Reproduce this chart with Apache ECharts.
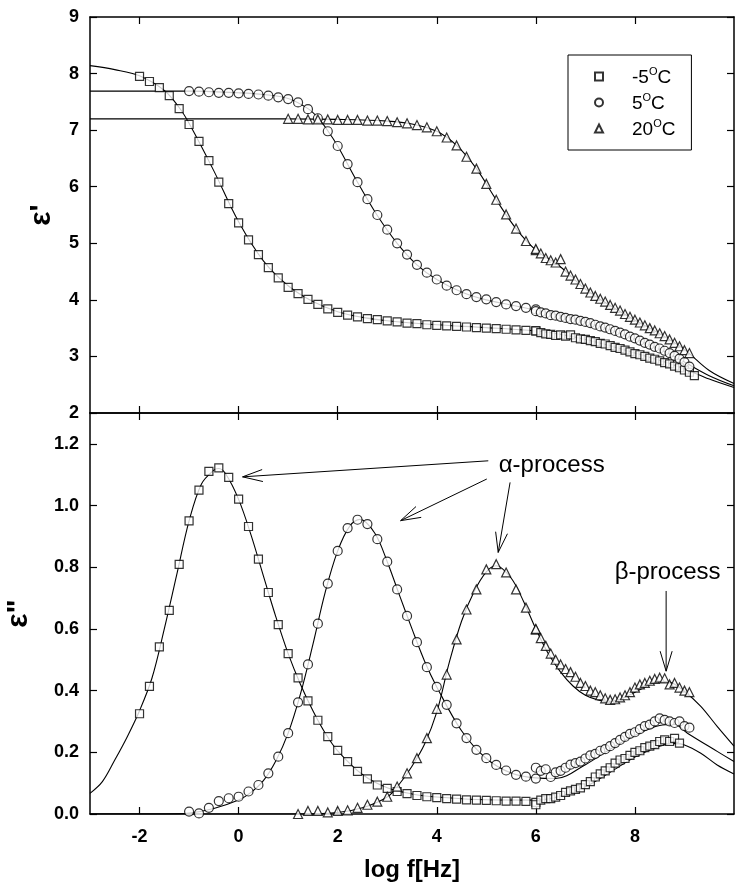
<!DOCTYPE html>
<html>
<head>
<meta charset="utf-8">
<script src="https://cdn.jsdelivr.net/npm/echarts@6/dist/echarts.min.js"></script>
<style>
  html, body { margin: 0; padding: 0; background: #fff; }
  #chart { width: 735px; height: 890px; }
</style>
</head>
<body>
<div id="chart"></div>
<script>
// x = log f[Hz]，低频测量点 (步长 0.2)
const xSqLF = [-2.0,-1.8,-1.6,-1.4,-1.2,-1.0,-0.8,-0.6,-0.4,-0.2,0.0,0.2,0.4,0.6,0.8,1.0,1.2,1.4,1.6,1.8,2.0,2.2,2.4,2.6,2.8,3.0,3.2,3.4,3.6,3.8,4.0,4.2,4.4,4.6,4.8,5.0,5.2,5.4,5.6,5.8,6.0]
const xCiLF = [-1.0,-0.8,-0.6,-0.4,-0.2,0.0,0.2,0.4,0.6,0.8,1.0,1.2,1.4,1.6,1.8,2.0,2.2,2.4,2.6,2.8,3.0,3.2,3.4,3.6,3.8,4.0,4.2,4.4,4.6,4.8,5.0,5.2,5.4,5.6,5.8,6.0]
const xTrTopLF = [1.0,1.2,1.4,1.6,1.8,2.0,2.2,2.4,2.6,2.8,3.0,3.2,3.4,3.6,3.8,4.0,4.2,4.4,4.6,4.8,5.0,5.2,5.4,5.6,5.8,6.0]
const xTrBotLF = [1.2,1.4,1.6,1.8,2.0,2.2,2.4,2.6,2.8,3.0,3.2,3.4,3.6,3.8,4.0,4.2,4.4,4.6,4.8,5.0,5.2,5.4,5.6,5.8,6.0]
// 高频测量点 (步长 0.1)
const xHF = [6.0,6.1,6.2,6.3,6.4,6.5,6.6,6.7,6.8,6.9,7.0,7.1,7.2,7.3,7.4,7.5,7.6,7.7,7.8,7.9,8.0,8.1,8.2,8.3,8.4,8.5,8.6,8.7,8.8,8.9,9.0,9.1,9.2]

// ε' (上图)
const epsSqLF = [7.95,7.86,7.75,7.61,7.38,7.10,6.80,6.46,6.08,5.70,5.36,5.06,4.80,4.57,4.39,4.22,4.11,4.01,3.92,3.84,3.78,3.73,3.70,3.67,3.65,3.63,3.61,3.59,3.58,3.56,3.55,3.54,3.53,3.52,3.51,3.50,3.49,3.48,3.47,3.46,3.45]
const epsSqHF = [3.45,3.42,3.40,3.39,3.37,3.38,3.36,3.38,3.33,3.31,3.30,3.28,3.26,3.23,3.22,3.19,3.16,3.14,3.11,3.08,3.05,3.03,3.00,2.97,2.95,2.92,2.89,2.87,2.83,2.80,2.76,2.72,2.66]
const epsCiLF = [7.69,7.68,7.67,7.66,7.66,7.65,7.64,7.63,7.61,7.58,7.55,7.49,7.37,7.21,6.98,6.72,6.40,6.08,5.78,5.50,5.24,5.00,4.80,4.62,4.48,4.36,4.25,4.17,4.10,4.05,4.01,3.96,3.92,3.89,3.86,3.83]
const epsCiHF = [3.80,3.78,3.76,3.73,3.72,3.70,3.68,3.66,3.65,3.63,3.61,3.59,3.56,3.53,3.51,3.48,3.45,3.42,3.39,3.35,3.32,3.28,3.24,3.21,3.17,3.14,3.10,3.06,3.01,2.96,2.90,2.82]
const epsTrLF = [7.20,7.20,7.19,7.19,7.19,7.18,7.18,7.18,7.17,7.17,7.16,7.14,7.12,7.09,7.05,6.98,6.87,6.73,6.53,6.32,6.05,5.77,5.51,5.26,5.04,4.88]
const epsTrHF = [4.90,4.82,4.74,4.70,4.66,4.72,4.50,4.43,4.36,4.28,4.20,4.13,4.07,4.02,3.97,3.91,3.86,3.81,3.75,3.70,3.65,3.60,3.55,3.50,3.46,3.41,3.36,3.30,3.24,3.18,3.11,3.06]

// ε'' (下图)
const lossSqLF = [0.325,0.414,0.542,0.660,0.809,0.950,1.050,1.111,1.122,1.091,1.021,0.932,0.826,0.718,0.614,0.520,0.441,0.367,0.304,0.251,0.206,0.170,0.138,0.114,0.094,0.083,0.073,0.066,0.060,0.056,0.053,0.050,0.048,0.046,0.045,0.044,0.043,0.042,0.042,0.041,0.038]
const lossSqHF = [0.030,0.045,0.050,0.050,0.055,0.060,0.070,0.075,0.080,0.085,0.095,0.105,0.120,0.130,0.140,0.150,0.165,0.175,0.180,0.190,0.200,0.205,0.215,0.220,0.225,0.235,0.240,0.235,0.245,0.230]
const lossCiLF = [0.008,0.002,0.020,0.042,0.051,0.056,0.073,0.094,0.132,0.186,0.262,0.362,0.485,0.617,0.747,0.853,0.927,0.954,0.940,0.891,0.818,0.728,0.642,0.557,0.476,0.412,0.354,0.294,0.246,0.208,0.181,0.159,0.141,0.127,0.121,0.115]
const lossCiHF = [0.150,0.140,0.145,0.120,0.135,0.140,0.150,0.160,0.165,0.170,0.180,0.190,0.195,0.205,0.210,0.220,0.230,0.240,0.250,0.260,0.265,0.275,0.285,0.290,0.300,0.310,0.305,0.300,0.295,0.300,0.285,0.280]
const lossTrLF = [0.000,0.010,0.010,0.005,0.010,0.012,0.020,0.030,0.040,0.056,0.089,0.132,0.181,0.246,0.341,0.452,0.566,0.663,0.728,0.793,0.810,0.783,0.728,0.669,0.598]
const lossTrHF = [0.600,0.570,0.545,0.520,0.500,0.485,0.470,0.460,0.445,0.425,0.415,0.400,0.395,0.385,0.375,0.370,0.372,0.378,0.385,0.395,0.410,0.420,0.425,0.432,0.438,0.442,0.440,0.420,0.425,0.410,0.400,0.395]

// 拟合曲线 [log f, 值]
const fitSqTop = [[-3,8.14],[-2.5,8.07],[-2,7.96],[-1.5,7.70],[-1.2,7.40],[-1,7.12],[-0.5,6.28],[0,5.38],[0.5,4.69],[1,4.25],[1.5,3.97],[2,3.79],[2.5,3.69],[3,3.63],[4,3.56],[5,3.51],[6,3.45],[6.5,3.39],[7,3.30],[7.5,3.19],[8,3.06],[8.5,2.93],[9,2.78],[9.5,2.60],[10,2.45]]
const fitCiTop = [[-3,7.69],[-1,7.69],[0,7.66],[0.5,7.63],[1,7.56],[1.4,7.38],[1.6,7.22],[1.8,6.99],[2,6.72],[2.4,6.08],[2.8,5.49],[3.2,5.00],[3.6,4.62],[4,4.36],[4.5,4.14],[5,4.00],[5.5,3.91],[6,3.82],[6.5,3.72],[7,3.61],[7.5,3.47],[8,3.31],[8.5,3.13],[9,2.90],[9.5,2.66],[10,2.48]]
const fitTrTop = [[-3,7.20],[1,7.20],[2,7.19],[3,7.16],[3.5,7.11],[4,6.98],[4.4,6.73],[4.8,6.32],[5.2,5.77],[5.6,5.26],[6,4.88],[6.5,4.58],[7,4.19],[7.5,3.90],[8,3.64],[8.5,3.40],[9,3.12],[9.5,2.75],[10,2.52]]
const fitSqBot = [[-3,0.067],[-2.75,0.105],[-2.5,0.175],[-2.25,0.25],[-2,0.335],[-1.75,0.44],[-1.5,0.60],[-1.25,0.775],[-1,0.95],[-0.75,1.07],[-0.5,1.115],[-0.4,1.12],[-0.25,1.10],[0,1.02],[0.25,0.905],[0.5,0.772],[0.75,0.640],[1,0.520],[1.25,0.42],[1.5,0.335],[1.75,0.262],[2,0.205],[2.5,0.128],[3,0.085],[3.5,0.065],[4,0.055],[5,0.046],[6,0.045],[6.5,0.058],[7,0.088],[7.5,0.135],[8,0.185],[8.5,0.22],[8.8,0.228],[9,0.224],[9.33,0.197],[9.66,0.159],[10,0.13]]
const fitCiBot = [[-3,0],[-1.5,0],[-1,0.003],[-0.5,0.018],[0,0.045],[0.25,0.07],[0.5,0.108],[0.75,0.172],[1,0.262],[1.25,0.39],[1.5,0.55],[1.75,0.72],[2,0.853],[2.25,0.935],[2.45,0.955],[2.75,0.91],[3,0.818],[3.25,0.708],[3.5,0.60],[3.75,0.497],[4,0.412],[4.5,0.27],[5,0.18],[5.5,0.133],[6,0.117],[6.4,0.115],[7,0.16],[7.5,0.21],[8,0.255],[8.5,0.287],[8.8,0.29],[9.06,0.262],[9.66,0.203],[10,0.17]]
const fitTrBot = [[-3,0],[1,0],[2,0.005],[2.5,0.02],[3,0.055],[3.25,0.098],[3.5,0.155],[3.75,0.225],[4,0.33],[4.25,0.49],[4.5,0.625],[4.75,0.72],[5,0.785],[5.2,0.805],[5.5,0.765],[5.75,0.69],[6,0.60],[6.25,0.52],[6.5,0.46],[6.75,0.415],[7,0.385],[7.25,0.37],[7.5,0.365],[7.75,0.375],[8,0.395],[8.25,0.415],[8.5,0.43],[8.75,0.425],[9,0.398],[9.33,0.349],[9.66,0.284],[10,0.22]]

// 刻度
const xTicks = [-2,0,2,4,6,8]
const topYTicks = [2,3,4,5,6,7,8,9]
const botYTicks = [0,0.2,0.4,0.6,0.8,1.0,1.2]
const legendNames = ['-5°C','5°C','20°C']

// 箭头标注 [起点, 终点]（下图数据坐标）
const alphaArrows = [
  [[5.04,1.145],[0.08,1.093]],
  [[5.01,1.086],[3.27,0.951]],
  [[5.48,1.075],[5.24,0.848]]
]
const betaArrow = [[8.63,0.723],[8.63,0.463]]
const alphaLabelPos = [6.32,1.13]
const betaLabelPos = [8.66,0.783]

const FONT = 'Liberation Sans'
const chart = echarts.init(document.getElementById('chart'))

const pts = (xs, ys) => ys.map((y, i) => [xs[i], y])

function xAxisCfg(gridIndex, position, showLabel, name) {
  return {
    type: 'value', gridIndex: gridIndex, position: position,
    min: -3, max: 10,
    name: name || '', nameLocation: 'middle', nameGap: 44,
    nameTextStyle: { fontFamily: FONT, fontWeight: 'bold', fontSize: 24, color: '#000' },
    axisLine: { show: true, onZero: false, lineStyle: { color: '#000', width: 1.5 } },
    axisTick: { show: true, inside: true, length: 7, customValues: xTicks, lineStyle: { color: '#000', width: 1.2 } },
    axisLabel: { show: showLabel, customValues: xTicks, margin: 14, fontFamily: FONT, fontWeight: 'bold', fontSize: 18, color: '#000' },
    splitLine: { show: false }
  }
}

function yAxisCfg(gridIndex, position, showLabel, min, max, ticks, fmt, name, gap) {
  return {
    type: 'value', gridIndex: gridIndex, position: position,
    min: min, max: max,
    name: name || '', nameLocation: 'middle', nameGap: gap || 0, nameRotate: 90,
    nameTextStyle: { fontFamily: FONT, fontWeight: 'bold', fontSize: 30, color: '#000' },
    axisLine: { show: true, onZero: false, lineStyle: { color: '#000', width: 1.5 } },
    axisTick: { show: true, inside: true, length: 7, customValues: ticks, lineStyle: { color: '#000', width: 1.2 } },
    axisLabel: { show: showLabel, customValues: ticks, margin: 11, formatter: fmt, fontFamily: FONT, fontWeight: 'bold', fontSize: 18, color: '#000' },
    splitLine: { show: false }
  }
}

const markerStyle = { color: '#fff', borderColor: '#000', borderWidth: 1.2 }

function scatter(name, data, symbol, size, panel) {
  return {
    name: name, type: 'scatter', data: data, symbol: symbol, symbolSize: size,
    xAxisIndex: panel * 2, yAxisIndex: panel * 2,
    itemStyle: markerStyle, z: 3, silent: true
  }
}

function fitLine(name, data, panel) {
  return {
    name: name, type: 'line', data: data, showSymbol: false, smooth: 0.35,
    xAxisIndex: panel * 2, yAxisIndex: panel * 2,
    lineStyle: { color: '#000', width: 1.1 }, z: 2, silent: true
  }
}

chart.setOption({
  animation: false,
  backgroundColor: '#fff',
  grid: [
    { left: 90, right: 1, top: 17, height: 396, outerBoundsMode: 'none', containLabel: false },
    { left: 90, right: 1, top: 413, height: 401, outerBoundsMode: 'none', containLabel: false }
  ],
  legend: {
    data: legendNames,
    orient: 'vertical',
    left: 568, top: 55,
    itemWidth: 8, itemHeight: 8, itemGap: 5,
    padding: [11, 16, 11, 26],
    borderColor: '#000', borderWidth: 1,
    selectedMode: false,
    formatter: function (n) { return '{g| }{t|' + n.replace('°C', '') + '}{s|O}{t|C}' },
    textStyle: {
      rich: {
        g: { width: 24 },
        t: { fontFamily: FONT, fontSize: 19, color: '#000', lineHeight: 21, verticalAlign: 'bottom' },
        s: { fontFamily: FONT, fontSize: 11, color: '#000', lineHeight: 12, verticalAlign: 'top' }
      }
    }
  },
  xAxis: [
    xAxisCfg(0, 'bottom', false),
    xAxisCfg(0, 'top', false),
    xAxisCfg(1, 'bottom', true, 'log f[Hz]'),
    xAxisCfg(1, 'top', false)
  ],
  yAxis: [
    yAxisCfg(0, 'left', true, 2, 9, topYTicks, function (v) { return String(v) }, "ε'", 33),
    yAxisCfg(0, 'right', false, 2, 9, topYTicks),
    yAxisCfg(1, 'left', true, 0, 1.3, botYTicks, function (v) { return v.toFixed(1) }, 'ε"', 56),
    yAxisCfg(1, 'right', false, 0, 1.3, botYTicks)
  ],
  series: [
    fitLine('fit-5 top', fitSqTop, 0),
    fitLine('fit5 top', fitCiTop, 0),
    fitLine('fit20 top', fitTrTop, 0),
    fitLine('fit-5 bot', fitSqBot, 1),
    fitLine('fit5 bot', fitCiBot, 1),
    fitLine('fit20 bot', fitTrBot, 1),
    scatter('-5°C', pts(xSqLF, epsSqLF), 'rect', 8, 0),
    scatter('-5°C', pts(xHF, epsSqHF), 'rect', 8, 0),
    scatter('5°C', pts(xCiLF, epsCiLF), 'circle', 9, 0),
    scatter('5°C', pts(xHF, epsCiHF), 'circle', 9, 0),
    scatter('20°C', pts(xTrTopLF, epsTrLF), 'triangle', 9, 0),
    scatter('20°C', pts(xHF, epsTrHF), 'triangle', 9, 0),
    scatter('-5°C', pts(xSqLF, lossSqLF), 'rect', 8, 1),
    scatter('-5°C', pts(xHF, lossSqHF), 'rect', 8, 1),
    scatter('5°C', pts(xCiLF, lossCiLF), 'circle', 9, 1),
    scatter('5°C', pts(xHF, lossCiHF), 'circle', 9, 1),
    scatter('20°C', pts(xTrBotLF, lossTrLF), 'triangle', 9, 1),
    scatter('20°C', pts(xHF, lossTrHF), 'triangle', 9, 1)
  ]
})

// 箭头和文字标注：数据坐标 -> 像素
function toPx(p) { return chart.convertToPixel({ gridIndex: 1 }, p) }

function arrow(from, to) {
  const a = toPx(from), b = toPx(to)
  const dx = b[0] - a[0], dy = b[1] - a[1]
  const len = Math.sqrt(dx * dx + dy * dy)
  const ux = dx / len, uy = dy / len
  const L = 20, W = 6
  const w1 = [b[0] - L * ux - W * uy, b[1] - L * uy + W * ux]
  const w2 = [b[0] - L * ux + W * uy, b[1] - L * uy - W * ux]
  const style = { stroke: '#000', lineWidth: 1, fill: null }
  return [
    { type: 'line', shape: { x1: a[0], y1: a[1], x2: b[0], y2: b[1] }, style: style, z: 10 },
    { type: 'polyline', shape: { points: [w1, b, w2] }, style: style, z: 10 }
  ]
}

function label(text, p) {
  const q = toPx(p)
  return {
    type: 'text', x: q[0], y: q[1], z: 10,
    style: { text: text, fontFamily: FONT, fontSize: 24, fill: '#000', align: 'center', verticalAlign: 'middle' }
  }
}

let graphics = []
alphaArrows.forEach(function (ar) { graphics = graphics.concat(arrow(ar[0], ar[1])) })
graphics = graphics.concat(arrow(betaArrow[0], betaArrow[1]))
graphics.push(label('α-process', alphaLabelPos))
graphics.push(label('β-process', betaLabelPos))
chart.setOption({ graphic: graphics })
</script>
</body>
</html>
